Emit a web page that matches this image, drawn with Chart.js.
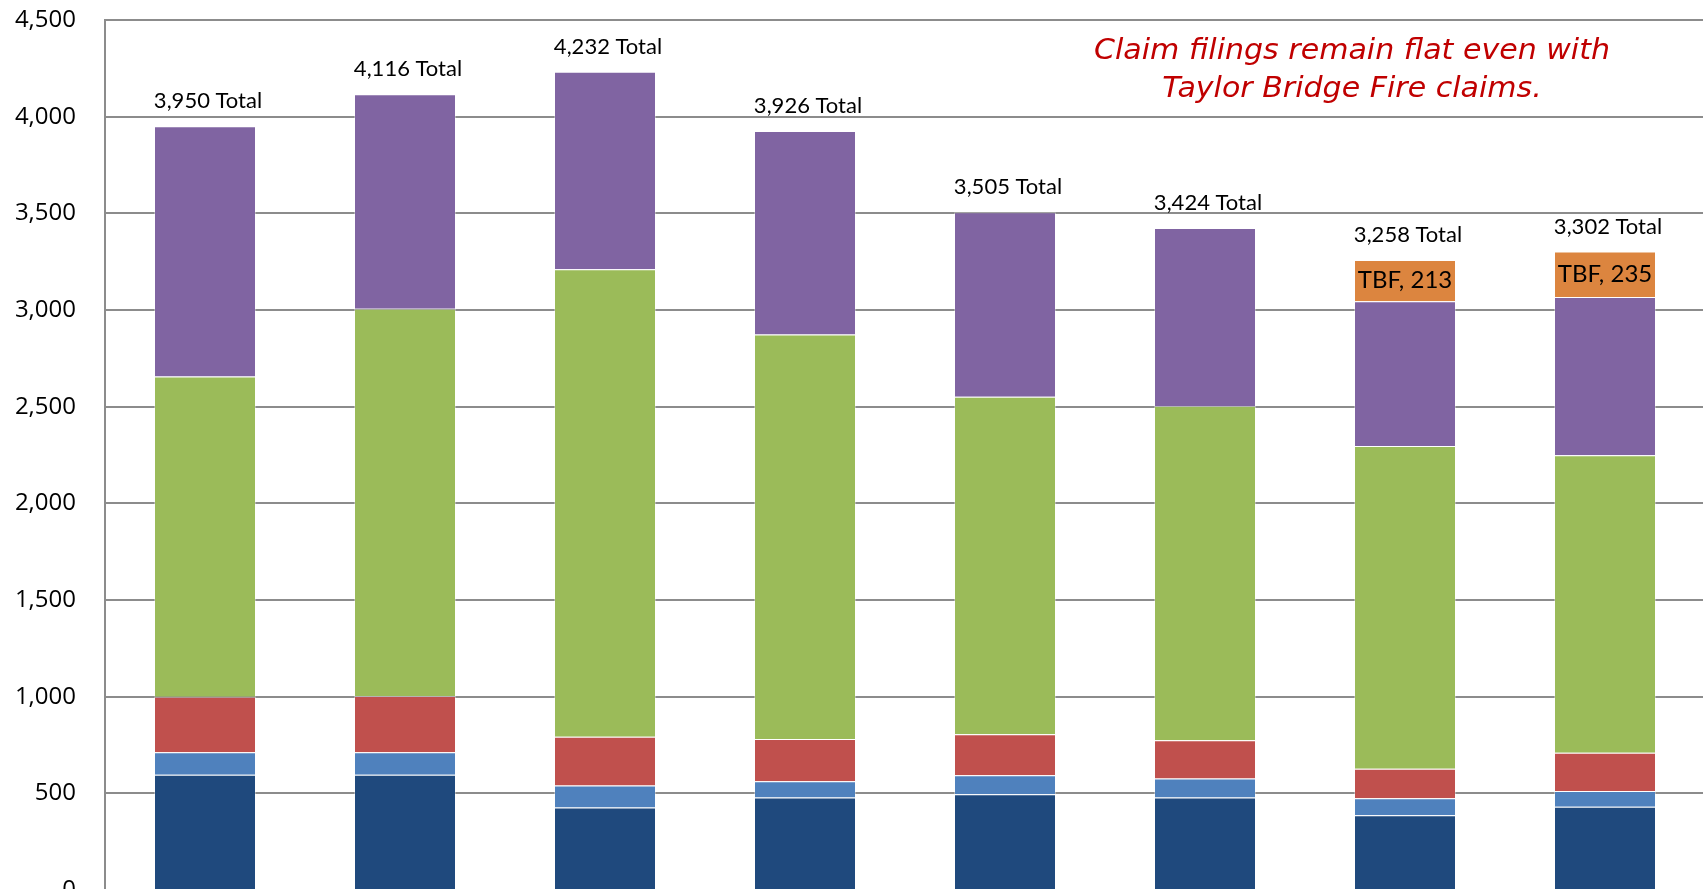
<!DOCTYPE html>
<html>
<head>
<meta charset="utf-8">
<script src="https://cdn.jsdelivr.net/npm/chart.js@4/dist/chart.umd.min.js"></script>
<style>
html,body{margin:0;padding:0;background:#fff;overflow:hidden;width:1703px;height:889px;}
#c{position:absolute;left:0;top:0;width:1712px;height:900px;}
#title{position:absolute;left:1352px;top:30px;white-space:nowrap;color:#C00000;
  font-family:"DejaVu Sans",sans-serif;font-style:italic;font-size:29px;line-height:38px;text-align:center;
  transform-origin:50% 0;}
</style>
</head>
<body>
<canvas id="c" width="1712" height="900"></canvas>
<div id="title"><div id="t1">Claim filings remain flat even with</div><div>Taylor Bridge Fire claims.</div></div>
<script>
const categories = ['2005','2006','2007','2008','2009','2010','2011','2012'];
const seriesDarkBlue  = [596, 596, 427, 479, 495, 479, 386, 431];
const seriesLightBlue = [117, 117, 114,  83,  98,  98,  88,  81];
const seriesRed       = [287, 290, 252, 219, 212, 197, 153, 198];
const seriesGreen     = [1656, 2003, 2418, 2092, 1746, 1729, 1669, 1539];
const seriesPurple    = [1294, 1110, 1021, 1053, 954, 921, 749, 818];
const seriesTBF       = [null, null, null, null, null, null, 213, 235];
const totals          = [3950, 4116, 4232, 3926, 3505, 3424, 3258, 3302];
const yTicks          = [0, 500, 1000, 1500, 2000, 2500, 3000, 3500, 4000, 4500];

(function(){
  const title = document.getElementById('title');
  const t1 = document.getElementById('t1');
  const w = t1.getBoundingClientRect().width;
  const s = 516 / w;
  title.style.transform = 'translateX(-50%) scaleX(' + s + ')';
})();

const fmt = v => v.toLocaleString('en-US');

const totalsPlugin = {
  id: 'totals',
  afterDatasetsDraw(chart) {
    const ctx = chart.ctx;
    ctx.save();
    const tbfIdx = chart.data.datasets.length - 1;
    const tbfMeta = chart.getDatasetMeta(tbfIdx);
    ctx.fillStyle = '#000';
    ctx.textAlign = 'center';
    ctx.textBaseline = 'middle';
    ctx.font = '24px Lato, "Open Sans", sans-serif';
    seriesTBF.forEach((v, i) => {
      if (v == null) return;
      const el = tbfMeta.data[i];
      ctx.fillText('TBF, ' + fmt(v), el.x, (el.y + el.base) / 2);
    });
    ctx.font = '22px Lato, "Open Sans", sans-serif';
    totals.forEach((t, i) => {
      let top = Infinity, x = 0;
      chart.data.datasets.forEach((ds, di) => {
        const v = ds.data[i];
        if (v == null) return;
        const el = chart.getDatasetMeta(di).data[i];
        if (el.y < top) { top = el.y; x = el.x; }
      });
      ctx.fillText(fmt(t) + ' Total', x + 3, top - 25);
    });
    ctx.restore();
  }
};

const border = 'rgba(255,255,255,0.35)';
function ds(label, data, color) {
  return { label, data, backgroundColor: color, borderColor: border, borderWidth: 1,
           barPercentage: 0.51, categoryPercentage: 1.0 };
}

const chart = new Chart(document.getElementById('c'), {
  type: 'bar',
  data: {
    labels: categories,
    datasets: [
      ds('Series 1', seriesDarkBlue, '#1F497D'),
      ds('Series 2', seriesLightBlue, '#4F81BD'),
      ds('Series 3', seriesRed, '#C0504D'),
      ds('Series 4', seriesGreen, '#9BBB59'),
      ds('Series 5', seriesPurple, '#8064A2'),
      ds('TBF', seriesTBF, '#DC853F')
    ]
  },
  options: {
    responsive: false,
    maintainAspectRatio: false,
    devicePixelRatio: 1,
    animation: false,
    layout: { padding: { top: 20, right: 7, bottom: 10, left: 0 } },
    plugins: { legend: { display: false }, tooltip: { enabled: false }, title: { display: false } },
    scales: {
      x: {
        stacked: true,
        ticks: { display: false },
        grid: { display: false, drawTicks: false },
        border: { display: true, color: '#8c8c8c', width: 2 },
        afterFit(scale) { scale.height = 0; scale.paddingLeft = 0; scale.paddingRight = 0; }
      },
      y: {
        stacked: true,
        min: 0, max: 4500,
        afterBuildTicks(scale) { scale.ticks = yTicks.map(v => ({ value: v })); },
        ticks: {
          padding: 29,
          color: '#000',
          font: { family: '"Open Sans", Lato, sans-serif', size: 24 },
          callback: v => fmt(v)
        },
        grid: { color: '#8c8c8c', lineWidth: 2, drawTicks: false },
        border: { display: true, color: '#8c8c8c', width: 2 },
        afterFit(scale) { scale.width = 105; scale.paddingTop = 0; scale.paddingBottom = 0; }
      }
    }
  },
  plugins: [totalsPlugin]
});

for (let k = 0; k < 4; k++) {
  const a = chart.chartArea;
  const p = chart.config.options.layout.padding;
  const dt = 20 - a.top, db = a.bottom - 890, dr = a.right - 1705;
  if (Math.abs(dt) < 0.5 && Math.abs(db) < 0.5 && Math.abs(dr) < 0.5) break;
  p.top += dt;
  p.bottom += db;
  p.right += dr;
  chart.update();
}
</script>
</body>
</html>
